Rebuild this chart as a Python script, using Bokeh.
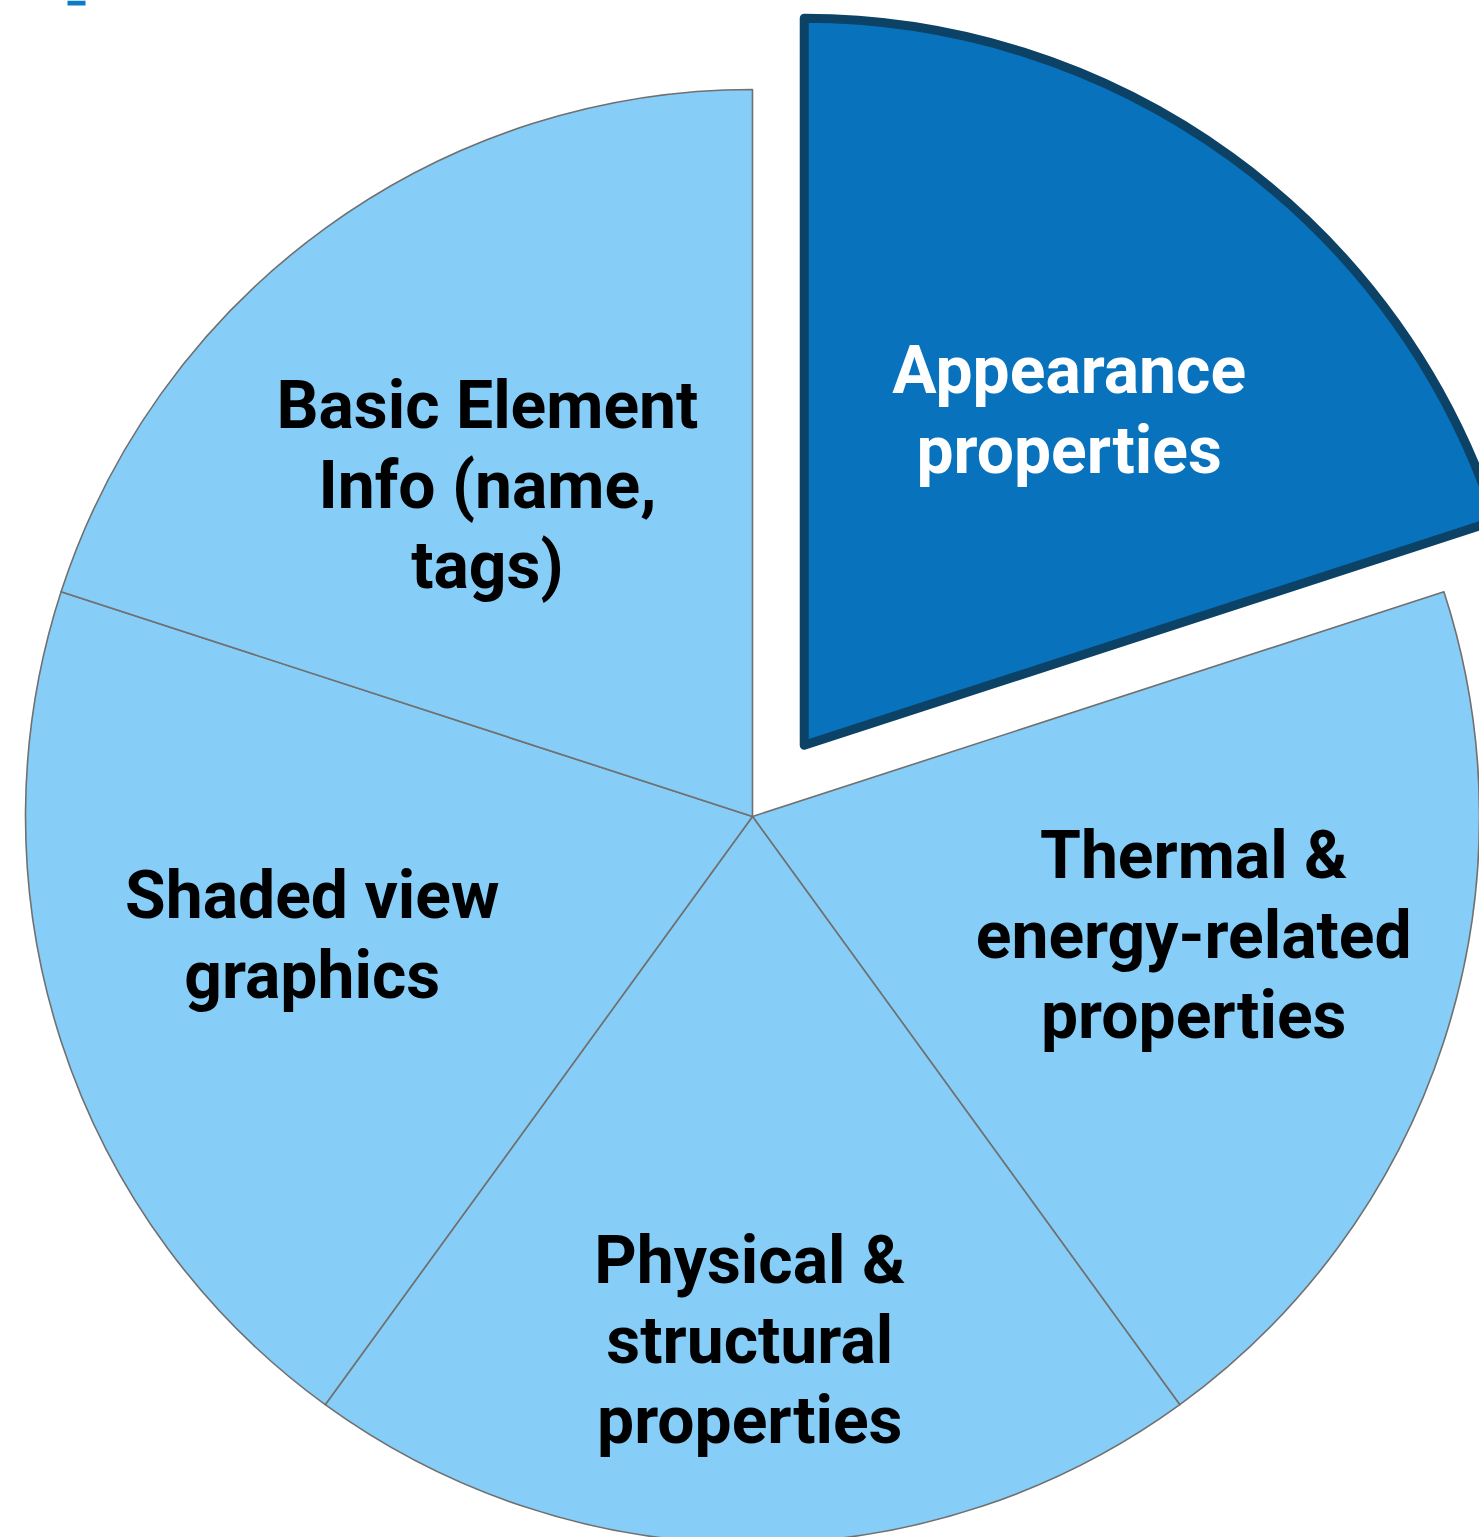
import math
from bokeh.plotting import figure
from bokeh.models import Range1d, ColumnDataSource
from bokeh.core.properties import value
from bokeh.embed import file_html
from bokeh.resources import INLINE

# ---- data ----
categories = [
    "Appearance\nproperties",
    "Thermal &\nenergy-related\nproperties",
    "Physical &\nstructural\nproperties",
    "Shaded view\ngraphics",
    "Basic Element\nInfo (name,\ntags)",
]
values = [1, 1, 1, 1, 1]
highlighted = [True, False, False, False, False]

# ---- style ----
W, H = 1479, 1537
CX, CY = 752, 816          # pie centre in page pixels
R = 727
EXPLODE = 88
label_r = [427, 457, 524, 456, 424]
label_dang = [-2.35, 2.9, -0.3, -2.9, 2.7]   # degrees
LIGHT = "#86cdf7"
DARK = "#0872bd"
DARK_EDGE = "#0b4266"
EDGE = "#707070"
FONT = "Roboto"
FONT_SIZE = "66px"

p = figure(width=W, height=H, output_backend="svg", toolbar_location=None,
           x_axis_type=None, y_axis_type=None, min_border=0,
           x_range=Range1d(-CX, W - CX), y_range=Range1d(-(H - CY), CY))
p.outline_line_color = None
p.grid.visible = False
p.background_fill_color = "white"

total = float(sum(values))
start = math.pi / 2
rows = dict(x=[], y=[], s=[], e=[], fill=[], line=[], lw=[], lx=[], ly=[], tc=[], text=[])
for i, (cat, v, hl) in enumerate(zip(categories, values, highlighted)):
    sweep = 2 * math.pi * v / total
    end = start - sweep
    mid = (start + end) / 2
    ox = EXPLODE * math.cos(mid) if hl else 0.0
    oy = EXPLODE * math.sin(mid) if hl else 0.0
    rows["x"].append(ox)
    rows["y"].append(oy)
    rows["s"].append(end)
    rows["e"].append(start)
    rows["fill"].append(DARK if hl else LIGHT)
    rows["line"].append(DARK_EDGE if hl else EDGE)
    rows["lw"].append(9 if hl else 1.6)
    a = mid + math.radians(label_dang[i])
    rows["lx"].append(ox + label_r[i] * math.cos(a))
    rows["ly"].append(oy + label_r[i] * math.sin(a))
    rows["tc"].append("white" if hl else "black")
    rows["text"].append(cat)
    start = end

src = ColumnDataSource(rows)
# draw light slices first, highlighted last
order_light = [i for i, h in enumerate(highlighted) if not h]
order_dark = [i for i, h in enumerate(highlighted) if h]
for idxs in (order_light, order_dark):
    sub = ColumnDataSource({k: [rows[k][i] for i in idxs] for k in rows})
    p.wedge(x="x", y="y", radius=R, start_angle="s", end_angle="e",
            fill_color="fill", line_color="line", line_width="lw",
            line_join="round", source=sub)

p.text(x="lx", y="ly", text="text", source=src, text_color="tc",
       text_font=value(FONT), text_font_style="bold", text_font_size=FONT_SIZE,
       text_align="center", text_baseline="middle", text_line_height=1.04)

# small cut-off marker at the top-left corner
p.quad(left=[67 - CX], right=[85 - CX], top=[CY], bottom=[CY - 5],
       fill_color="#0a7bc8", line_color=None)

open("out.html", "w").write(file_html(p, INLINE))
